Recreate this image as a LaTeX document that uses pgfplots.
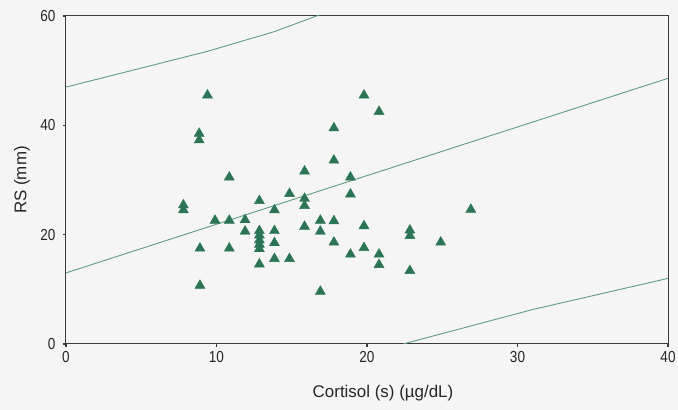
\documentclass[border=0pt]{standalone}
\usepackage{pgfplots}
\pgfplotsset{compat=1.18}
\usepackage{fontspec}
\setmainfont{Liberation Sans}
\newfontfamily\tickfont{Liberation Sans}[FakeStretch=0.85]
\usetikzlibrary{backgrounds}
\definecolor{mk}{HTML}{2B7556}
\definecolor{ln}{HTML}{5F9C82}
\definecolor{fr}{HTML}{3A3A3A}
\begin{document}
\begin{tikzpicture}
\begin{axis}[
  name=ax,
  scale only axis, width=602bp, height=328bp,
  xmin=0, xmax=40, ymin=0, ymax=60,
  xtick={0,10,20,30,40}, ytick={0,20,40,60},
  xtick pos=left, ytick pos=left,
  /pgf/number format/assume math mode=true,
  tick label style={font=\tickfont\fontsize{16}{16}\selectfont, text=black!85},
  yticklabel style={xshift=-4bp},
  xticklabel style={yshift=-1bp},
  tick align=outside, major tick length=3bp,
  tick style={line width=1.6bp, fr},
  axis line style={draw=fr, line width=1bp},
  xlabel={Cortisol (s) (µg/dL)},
  ylabel={RS (mm)},
  label style={font=\fontsize{17}{17}\selectfont, text=black!85},
  xlabel style={at={(axis description cs:0.5,0)}, anchor=center, xshift=16bp, yshift=-49bp},
  ylabel style={at={(axis description cs:0,0.5)}, anchor=center, rotate=0, yshift=44bp},
  clip=true,
]
\addplot[ln, line width=0.9bp] coordinates {(0,13.0) (40,48.6)};
\addplot[ln, line width=0.9bp] coordinates {(0,47.0) (4.9,50.4) (9.35,53.5) (13.8,57.1) (16.65,60.0) (17,60.4)};
\addplot[ln, line width=0.9bp] coordinates {(22.4,0) (31,6.3) (40,12.0)};
\addplot[only marks, mark=triangle*, mark size=5.8bp, mk, mark options={draw=mk, fill=mk}] coordinates {
(7.8,25.4) (7.8,24.5)
(8.9,17.5) (8.9,10.7)
(9.4,45.5)
(8.85,38.5) (8.85,37.3)
(9.9,22.6)
(10.85,30.5) (10.85,22.6) (10.85,17.5)
(11.9,22.7) (11.9,20.6)
(12.85,26.2) (12.85,20.7) (12.85,19.9) (12.85,19.0) (12.85,18.2) (12.85,17.4) (12.85,14.6)
(13.85,24.5) (13.85,20.7) (13.85,18.5) (13.85,15.6)
(14.85,27.5) (14.85,15.6)
(15.85,31.6) (15.85,26.6) (15.85,25.3) (15.85,21.5)
(16.9,22.6) (16.9,20.6) (16.9,9.6)
(17.8,39.5) (17.8,33.6) (17.8,22.5) (17.8,18.6)
(18.9,30.5) (18.9,27.4) (18.9,16.4)
(19.8,45.5) (19.8,21.6) (19.8,17.6)
(20.8,42.5) (20.8,16.4) (20.8,14.5)
(22.85,20.8) (22.85,19.8) (22.85,13.4)
(24.9,18.6)
(26.9,24.6)
};
\end{axis}
\pgfresetboundingbox
\path ([xshift=-66bp,yshift=-66bp]ax.south west) rectangle ([xshift=10bp,yshift=16bp]ax.north east);
\begin{pgfonlayer}{background}
\fill[black!4] ([xshift=-66bp,yshift=-66bp]ax.south west) rectangle ([xshift=10bp,yshift=16bp]ax.north east);
\end{pgfonlayer}
\end{tikzpicture}
\end{document}
